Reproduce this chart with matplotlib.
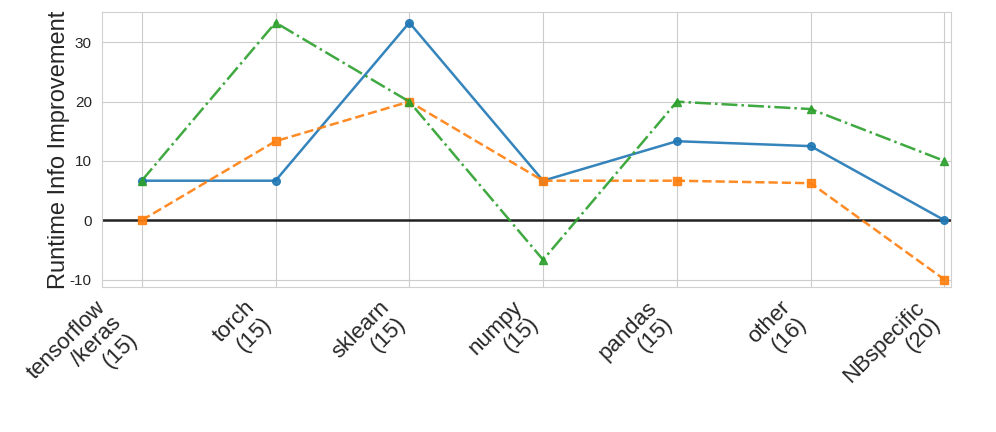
import matplotlib
matplotlib.use("Agg")
import matplotlib.pyplot as plt
import seaborn as sns

categories = ["tensorflow\n/keras\n(15)", "torch\n(15)", "sklearn\n(15)", "numpy\n(15)",
              "pandas\n(15)", "other\n(16)", "NBspecific\n(20)"]
blue_vals = [6.67, 6.67, 33.33, 6.67, 13.33, 12.5, 0.0]
orange_vals = [0.0, 13.33, 20.0, 6.67, 6.67, 6.25, -10.0]
green_vals = [6.67, 33.33, 20.0, -6.67, 20.0, 18.75, 10.0]

sns.set_style("whitegrid")
plt.rcParams['font.family'] = ['Liberation Sans', 'DejaVu Sans']
plt.rcParams['axes.unicode_minus'] = False

fig, ax = plt.subplots(figsize=(9.96, 4.32), dpi=100)
fig.subplots_adjust(left=0.102, right=0.955, top=0.972, bottom=0.335)

x = list(range(len(categories)))
ax.plot(x, blue_vals, color="tab:blue", marker="o", markersize=5.5, linewidth=1.8, linestyle="-", alpha=0.9)
ax.plot(x, orange_vals, color="tab:orange", marker="s", markersize=5.5, linewidth=1.8, linestyle="--", alpha=0.9)
ax.plot(x, green_vals, color="tab:green", marker="^", markersize=5.5, linewidth=1.8, linestyle="-.", alpha=0.9)
ax.axhline(0, color="#222222", linewidth=1.8, zorder=1)

ax.set_xlim(-0.3, 6.05)
ax.set_ylim(-11.3, 35.1)
ax.set_yticks([-10, 0, 10, 20, 30])
ax.set_xticks(x)
ax.set_xticklabels(categories, rotation=45, ha="right", fontsize=16, linespacing=1.1)
ax.tick_params(axis="y", labelsize=11)
ax.set_ylabel("Runtime Info Improvement", fontsize=17, labelpad=0)
for s in ax.spines.values():
    s.set_color("#d0d0d0")

plt.savefig("out.png", dpi=100)
